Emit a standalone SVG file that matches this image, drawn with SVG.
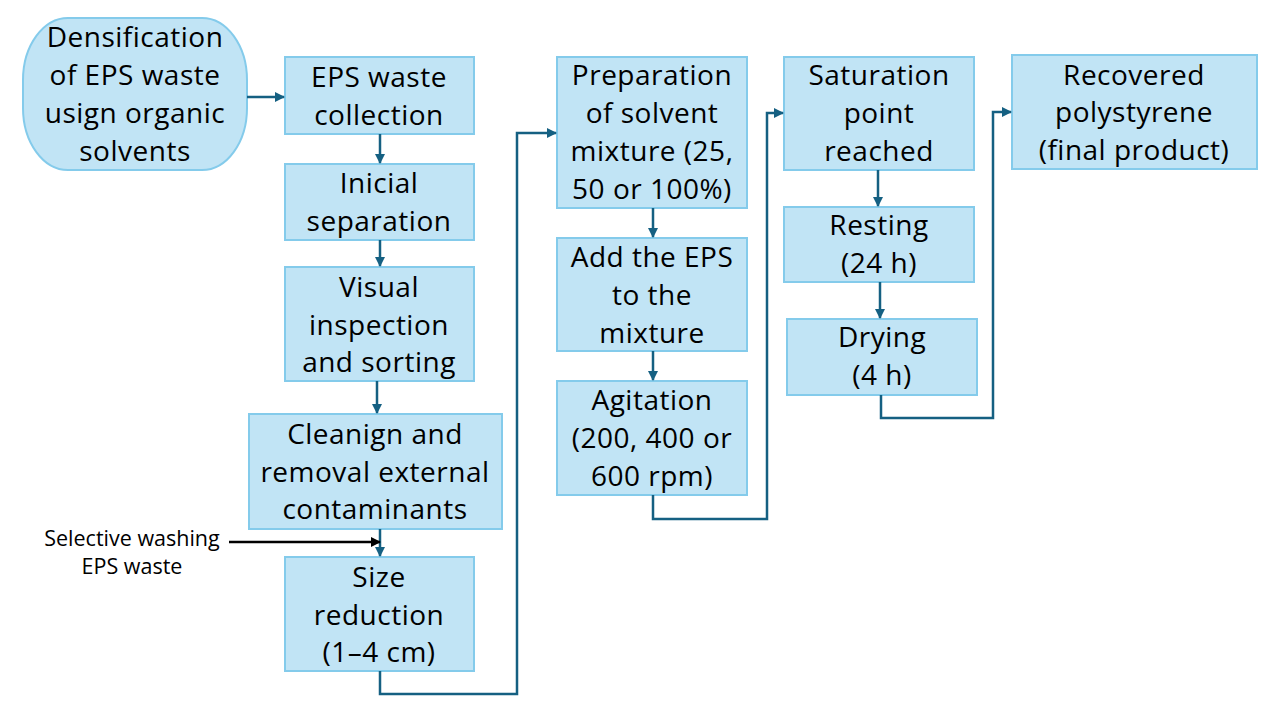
<svg xmlns="http://www.w3.org/2000/svg" width="1280" height="720" viewBox="0 0 1280 720">
<defs>
<marker id="ah" viewBox="0 0 10 10" refX="9" refY="5" markerWidth="4" markerHeight="4" orient="auto" markerUnits="strokeWidth"><path d="M0,0 L10,5 L0,10 Z" fill="#156082"/></marker>
<marker id="ahk" viewBox="0 0 10 10" refX="9" refY="5" markerWidth="4" markerHeight="4" orient="auto" markerUnits="strokeWidth"><path d="M0,0 L10,5 L0,10 Z" fill="#000"/></marker>
</defs>
<style>
.b{fill:#C1E4F5;stroke:#84CBEB;stroke-width:2}
.t{font-family:"Open Sans","Liberation Sans",sans-serif;font-size:28px;fill:#000;text-anchor:middle;letter-spacing:0.5px}
.s{font-family:"Open Sans","Liberation Sans",sans-serif;font-size:21.5px;fill:#000;text-anchor:middle}
.c{fill:none;stroke:#156082;stroke-width:2.5;marker-end:url(#ah)}
</style>
<rect width="1280" height="720" fill="#fff"/>
<g id="start"><rect class="b" x="23" y="18" width="224" height="152" rx="45" ry="62"/>
<text class="t" x="135"><tspan x="135" y="47">Densification</tspan><tspan x="135" y="85">of EPS waste</tspan><tspan x="135" y="123">usign organic</tspan><tspan x="135" y="161">solvents</tspan></text></g>
<g id="collection"><rect class="b" x="285" y="57" width="189" height="77"/>
<text class="t"><tspan x="379" y="87">EPS waste</tspan><tspan x="379" y="125">collection</tspan></text></g>
<g id="separation"><rect class="b" x="285" y="164" width="189" height="76"/>
<text class="t"><tspan x="379" y="193">Inicial</tspan><tspan x="379" y="231">separation</tspan></text></g>
<g id="inspection"><rect class="b" x="285" y="267" width="189" height="114"/>
<text class="t"><tspan x="379" y="297">Visual</tspan><tspan x="379" y="335">inspection</tspan><tspan x="379" y="372">and sorting</tspan></text></g>
<g id="cleaning"><rect class="b" x="249" y="414" width="253" height="115"/>
<text class="t"><tspan x="375" y="444">Cleanign and</tspan><tspan x="375" y="482">removal external</tspan><tspan x="375" y="519">contaminants</tspan></text></g>
<g id="size"><rect class="b" x="285" y="557" width="189" height="114"/>
<text class="t"><tspan x="379" y="587">Size</tspan><tspan x="379" y="625">reduction</tspan><tspan x="379" y="662">(1–4 cm)</tspan></text></g>
<g id="washing"><text class="s"><tspan x="132" y="546">Selective washing</tspan><tspan x="132" y="574">EPS waste</tspan></text></g>
<g id="preparation"><rect class="b" x="557" y="57" width="190" height="151"/>
<text class="t"><tspan x="652" y="85">Preparation</tspan><tspan x="652" y="123">of solvent</tspan><tspan x="652" y="161">mixture (25,</tspan><tspan x="652" y="199">50 or 100%)</tspan></text></g>
<g id="add"><rect class="b" x="557" y="238" width="190" height="113"/>
<text class="t"><tspan x="652" y="267">Add the EPS</tspan><tspan x="652" y="305">to the</tspan><tspan x="652" y="343">mixture</tspan></text></g>
<g id="agitation"><rect class="b" x="557" y="381" width="190" height="114"/>
<text class="t"><tspan x="652" y="410">Agitation</tspan><tspan x="652" y="448">(200, 400 or</tspan><tspan x="652" y="486">600 rpm)</tspan></text></g>
<g id="saturation"><rect class="b" x="784" y="57" width="190" height="113"/>
<text class="t"><tspan x="879" y="85">Saturation</tspan><tspan x="879" y="123">point</tspan><tspan x="879" y="161">reached</tspan></text></g>
<g id="resting"><rect class="b" x="784" y="207" width="190" height="75"/>
<text class="t"><tspan x="879" y="235">Resting</tspan><tspan x="879" y="273">(24 h)</tspan></text></g>
<g id="drying"><rect class="b" x="787" y="319" width="190" height="76"/>
<text class="t"><tspan x="882" y="347">Drying</tspan><tspan x="882" y="385">(4 h)</tspan></text></g>
<g id="recovered"><rect class="b" x="1012" y="55" width="245" height="114"/>
<text class="t"><tspan x="1134" y="85">Recovered</tspan><tspan x="1134" y="122">polystyrene</tspan><tspan x="1134" y="160">(final product)</tspan></text></g>
<g id="connectors">
<path class="c" d="M247,97 H284"/>
<path class="c" d="M380,134 V163"/>
<path class="c" d="M380,240 V266"/>
<path class="c" d="M377,381 V413"/>
<path class="c" d="M380,529 V556"/>
<path d="M229,542 H380" fill="none" stroke="#000" stroke-width="2.5" marker-end="url(#ahk)"/>
<path class="c" d="M380,671 V694 H517 V133 H556"/>
<path class="c" d="M653,208 V237"/>
<path class="c" d="M653,351 V380"/>
<path class="c" d="M653,495 V519 H767 V113 H783"/>
<path class="c" d="M878,170 V206"/>
<path class="c" d="M880,282 V318"/>
<path class="c" d="M881,395 V418 H993 V112 H1011"/>
</g>
</svg>
